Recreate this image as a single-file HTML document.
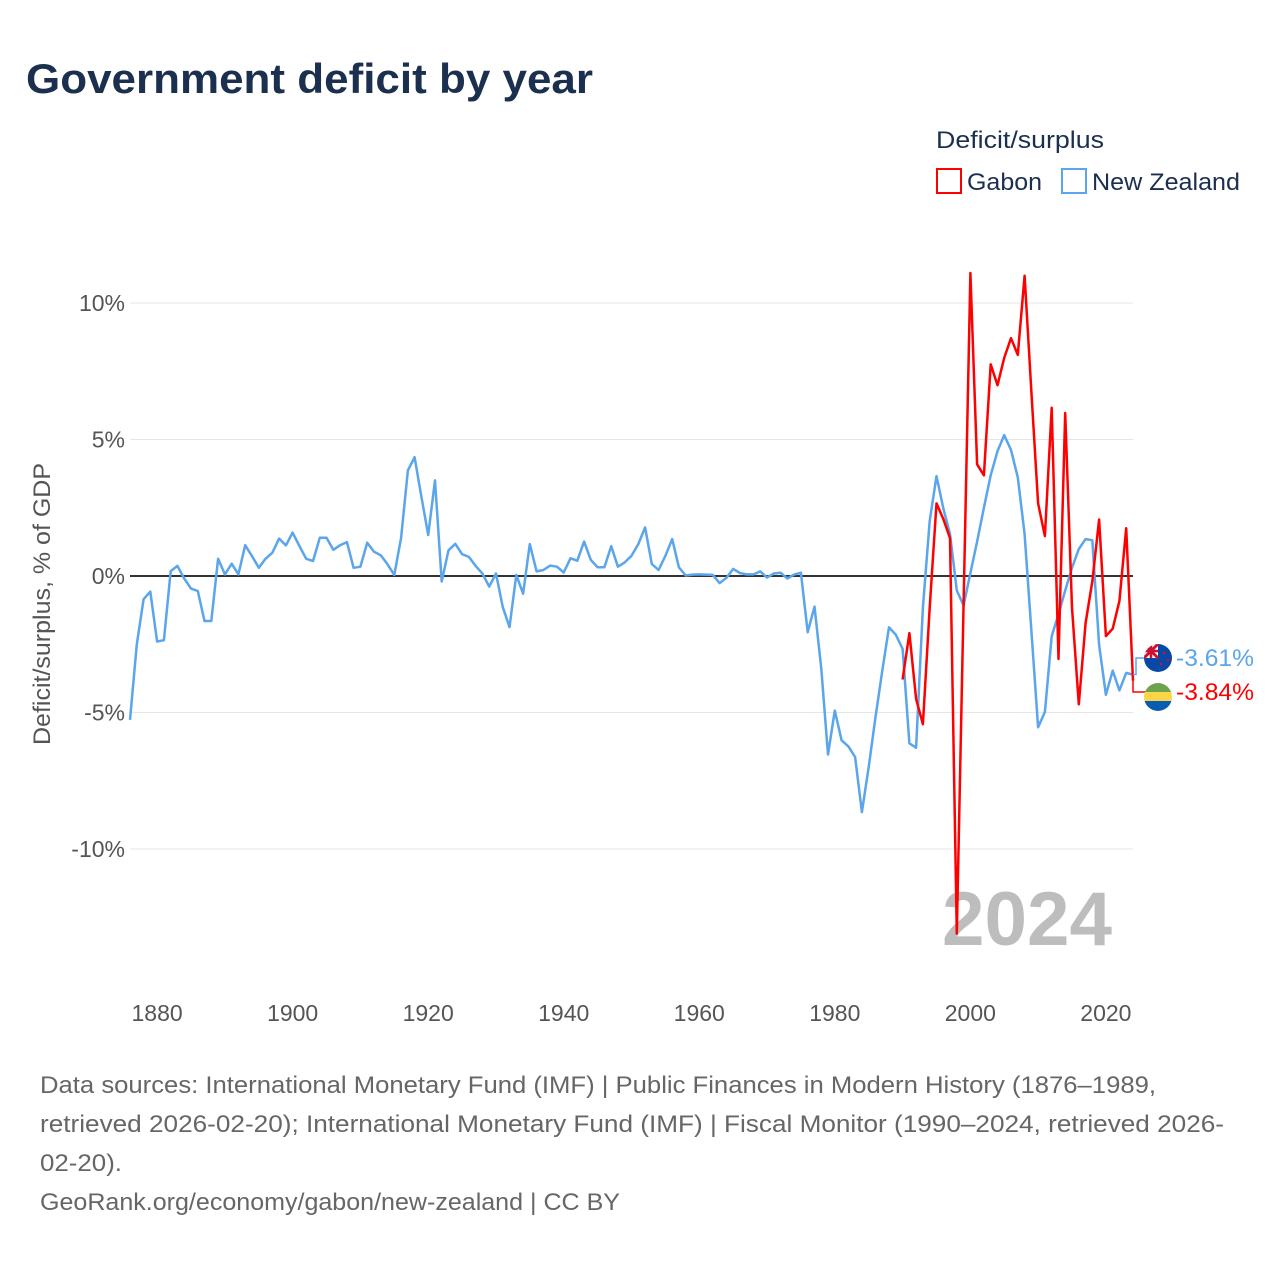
<!DOCTYPE html>
<html><head><meta charset="utf-8"><style>
body{margin:0;background:#fff;}
svg{display:block;font-family:"Liberation Sans",sans-serif;}
</style></head><body>
<svg id="chart" width="1280" height="1280" viewBox="0 0 1280 1280">
<text x="26" y="93" font-size="42" font-weight="bold" fill="#1b2f4e" textLength="567" lengthAdjust="spacingAndGlyphs">Government deficit by year</text>
<text x="936" y="148" font-size="24" fill="#1b2f4e" textLength="168" lengthAdjust="spacingAndGlyphs">Deficit/surplus</text>
<g><rect x="937" y="169" width="24" height="24" fill="none" stroke="#ff0000" stroke-width="2"/><text x="967" y="190" font-size="24" fill="#1b2f4e" textLength="75" lengthAdjust="spacingAndGlyphs">Gabon</text></g>
<g><rect x="1062" y="169" width="24" height="24" fill="none" stroke="#5aa5ec" stroke-width="2"/><text x="1092" y="190" font-size="24" fill="#1b2f4e" textLength="148" lengthAdjust="spacingAndGlyphs">New Zealand</text></g>
<g id="grid"></g>
<g id="yticks"></g>
<g id="xticks"></g>
<text transform="translate(50,604) rotate(-90)" text-anchor="middle" font-size="24" fill="#555" textLength="282" lengthAdjust="spacingAndGlyphs">Deficit/surplus, % of GDP</text>
<text x="942" y="945" font-size="76" font-weight="bold" fill="#bdbdbd" textLength="170" lengthAdjust="spacingAndGlyphs">2024</text>
<g id="series"></g>
<g font-size="24" fill="#666">
<text x="40" y="1093" textLength="1116" lengthAdjust="spacingAndGlyphs">Data sources: International Monetary Fund (IMF) | Public Finances in Modern History (1876–1989,</text>
<text x="40" y="1132" textLength="1184" lengthAdjust="spacingAndGlyphs">retrieved 2026-02-20); International Monetary Fund (IMF) | Fiscal Monitor (1990–2024, retrieved 2026-</text>
<text x="40" y="1171" textLength="82" lengthAdjust="spacingAndGlyphs">02-20).</text>
<text x="40" y="1210" textLength="580" lengthAdjust="spacingAndGlyphs">GeoRank.org/economy/gabon/new-zealand | CC BY</text>
</g>
</svg>
<script>
const nzStart = 1876;
const nzValues = [-5.27,-2.5,-0.85,-0.57,-2.4,-2.35,0.18,0.37,-0.09,-0.46,-0.55,-1.65,-1.65,0.63,0.06,0.45,0.06,1.13,0.73,0.3,0.63,0.85,1.37,1.12,1.59,1.1,0.63,0.55,1.4,1.4,0.96,1.13,1.24,0.3,0.34,1.22,0.89,0.76,0.43,0.04,1.4,3.87,4.35,2.9,1.5,3.5,-0.2,0.94,1.18,0.8,0.7,0.37,0.09,-0.39,0.09,-1.13,-1.87,0.04,-0.65,1.17,0.17,0.22,0.38,0.34,0.13,0.65,0.56,1.26,0.59,0.32,0.32,1.09,0.34,0.5,0.74,1.17,1.78,0.44,0.22,0.74,1.35,0.32,0.02,0.05,0.06,0.05,0.04,-0.26,-0.07,0.26,0.11,0.06,0.06,0.17,-0.06,0.09,0.12,-0.09,0.05,0.12,-2.06,-1.12,-3.4,-6.54,-4.93,-6.02,-6.24,-6.63,-8.65,-7.0,-5.17,-3.46,-1.88,-2.15,-2.67,-6.13,-6.29,-1.16,2.02,3.66,2.5,1.54,-0.53,-1.08,0.11,1.26,2.5,3.69,4.57,5.16,4.62,3.61,1.54,-1.96,-5.54,-4.98,-2.2,-1.4,-0.53,0.3,0.99,1.35,1.31,-2.52,-4.35,-3.47,-4.19,-3.55,-3.61];
const gabonStart = 1990;
const gabonValues = [-3.79,-2.09,-4.5,-5.43,-1.16,2.66,2.1,1.39,-13.1,-1.0,11.1,4.09,3.69,7.75,6.99,7.99,8.71,8.1,11.0,6.8,2.66,1.46,6.16,-3.04,5.97,-1.16,-4.7,-1.72,-0.2,2.07,-2.2,-1.93,-0.92,1.75,-3.84];
const yTicks = [10,5,0,-5,-10];
const yTickLabels = ["10%","5%","0%","-5%","-10%"];
const xTicks = [1880,1900,1920,1940,1960,1980,2000,2020];

const NS = "http://www.w3.org/2000/svg";
const X0 = 130, X1 = 1133, YR0 = 1876, YR1 = 2024;
const xs = y => X0 + (y - YR0) * (X1 - X0) / (YR1 - YR0);
const ys = v => 576 - v * 27.3;
function mk(tag, attrs, parent){const e=document.createElementNS(NS,tag);for(const k in attrs)e.setAttribute(k,attrs[k]);parent.appendChild(e);return e;}
const grid=document.getElementById('grid'), yt=document.getElementById('yticks'), xt=document.getElementById('xticks'), ser=document.getElementById('series');
yTicks.forEach((t,i)=>{
  const l=mk('line',{x1:X0,x2:X1,y1:ys(t),y2:ys(t),stroke:t===0?'#333':'#e6e6e6','stroke-width':t===0?2:1},grid);
  
  
  const tx=mk('text',{x:125,y:ys(t)+8,'text-anchor':'end','font-size':23,fill:'#555'},yt);
  tx.textContent=yTickLabels[i];
  
  
});
xTicks.forEach(t=>{
  const tx=mk('text',{x:xs(t),y:1021,'text-anchor':'middle','font-size':23,fill:'#555'},xt);
  tx.textContent=t;
  
  
});
function line(vals,start,color,name){
  const d=vals.map((v,i)=>(i?'L':'M')+xs(start+i).toFixed(1)+','+ys(v).toFixed(1)).join(' ');
  const p=mk('path',{d:d,fill:'none',stroke:color,'stroke-width':2.5,'stroke-linejoin':'round'},ser);
  
  
}
line(nzValues,nzStart,'#5aa5ec','line-new-zealand');
line(gabonValues,gabonStart,'#ff0000','line-gabon');
const nzLast=nzValues[nzValues.length-1], gLast=gabonValues[gabonValues.length-1];
const c1=mk('path',{d:`M${X1},${ys(nzLast)} L1136,${ys(nzLast)} L1136,658 H1146`,fill:'none',stroke:'#5aa5ec','stroke-width':1.5},ser);


const c2=mk('path',{d:`M${X1},${ys(gLast)} V692 H1146`,fill:'none',stroke:'#ff0000','stroke-width':1.5},ser);


const defs=mk('defs',{},ser);
const cp1=mk('clipPath',{id:'c1'},defs);mk('circle',{cx:1158,cy:658,r:14},cp1);
const cp2=mk('clipPath',{id:'c2'},defs);mk('circle',{cx:1158,cy:697,r:14},cp2);
const f1=mk('g',{'clip-path':'url(#c1)'},ser);


mk('rect',{x:1144,y:644,width:28,height:28,fill:'#0a48a8'},f1);
mk('rect',{x:1144,y:644,width:14,height:14,fill:'#fff'},f1);
mk('path',{d:'M1144,644 L1158,658 M1158,644 L1144,658',stroke:'#d0102c','stroke-width':3},f1);
mk('path',{d:'M1151,644 V658 M1144,651 H1158',stroke:'#d0102c','stroke-width':2.5},f1);
[[1164,653],[1168,660],[1161,664]].forEach(p=>mk('circle',{cx:p[0],cy:p[1],r:1.3,fill:'#d0102c'},f1));
const f2=mk('g',{'clip-path':'url(#c2)'},ser);


mk('rect',{x:1144,y:683,width:28,height:10,fill:'#6da34d'},f2);
mk('rect',{x:1144,y:692,width:28,height:10,fill:'#f9d548'},f2);
mk('rect',{x:1144,y:701,width:28,height:10,fill:'#0a5cb3'},f2);
const l1=mk('text',{x:1176,y:666,'font-size':24,fill:'#5aa5ec',textLength:78,lengthAdjust:'spacingAndGlyphs'},ser);
l1.textContent=nzLast.toFixed(2)+'%';


const l2=mk('text',{x:1176,y:700,'font-size':24,fill:'#ff0000',textLength:78,lengthAdjust:'spacingAndGlyphs'},ser);
l2.textContent=gLast.toFixed(2)+'%';


</script>
</body></html>
